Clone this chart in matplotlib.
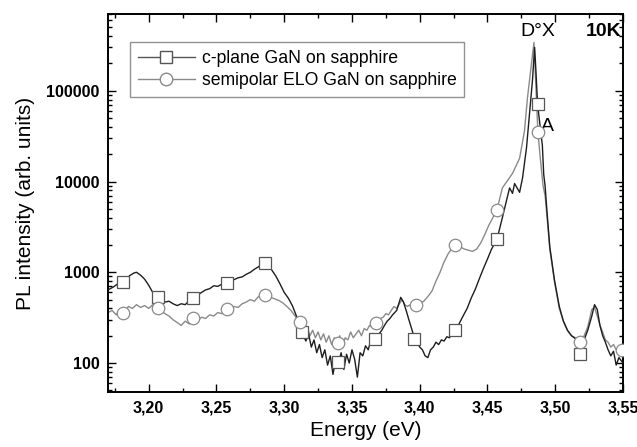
import matplotlib
matplotlib.use('Agg')
import matplotlib.pyplot as plt
from matplotlib.lines import Line2D
from matplotlib.ticker import FixedLocator, FuncFormatter, LogLocator, NullFormatter, MultipleLocator

plt.rcParams['font.family'] = ['Liberation Sans', 'DejaVu Sans']

# c-plane GaN on sapphire (dark curve)
c_energy = [3.170, 3.174, 3.178, 3.182, 3.186, 3.189, 3.191, 3.194, 3.197, 3.200,
            3.203, 3.206, 3.209, 3.212, 3.215, 3.218, 3.221, 3.224, 3.227, 3.230,
            3.233, 3.236, 3.239, 3.242, 3.245, 3.248, 3.251, 3.254, 3.257, 3.260,
            3.263, 3.266, 3.269, 3.272, 3.275, 3.278, 3.281, 3.284, 3.286, 3.288,
            3.291, 3.294, 3.297, 3.300, 3.303, 3.306, 3.309, 3.312, 3.314, 3.316,
            3.318, 3.320, 3.322, 3.324, 3.326, 3.328, 3.330, 3.332, 3.334, 3.336,
            3.338, 3.340, 3.342, 3.344, 3.346, 3.348, 3.350, 3.352, 3.354, 3.356,
            3.358, 3.360, 3.362, 3.364, 3.366, 3.368, 3.370, 3.372, 3.374, 3.376,
            3.378, 3.380, 3.383, 3.386, 3.388, 3.390, 3.392, 3.394, 3.396, 3.398,
            3.400, 3.402, 3.404, 3.406, 3.408, 3.410, 3.412, 3.414, 3.416, 3.418,
            3.420, 3.422, 3.424, 3.426, 3.429, 3.432, 3.435, 3.438, 3.441, 3.444,
            3.447, 3.450, 3.453, 3.457, 3.461, 3.4663, 3.4685, 3.470, 3.4737, 3.4759,
            3.4788, 3.481, 3.4832, 3.4848, 3.4858, 3.487, 3.4885, 3.4905, 3.4915, 3.4925,
            3.494, 3.496, 3.4995, 3.503, 3.506, 3.509, 3.512, 3.515, 3.518, 3.521,
            3.524, 3.527, 3.529, 3.531, 3.533, 3.535, 3.537, 3.539, 3.541, 3.543,
            3.545, 3.547, 3.550]
c_intensity = [640, 690, 760, 800, 920, 980, 1000, 930, 840, 720,
               600, 540, 500, 470, 480, 450, 430, 450, 440, 490,
               520, 560, 600, 640, 660, 710, 700, 740, 760, 800,
               830, 870, 890, 950, 1000, 1080, 1150, 1250, 1320, 1200,
               1050, 900, 740, 600, 520, 430, 330, 240, 200, 175,
               210, 150, 180, 130, 160, 115, 140, 95, 120, 75,
               110, 100, 130, 85, 125, 100, 140, 110, 70, 130,
               120, 155, 140, 180, 160, 190, 210, 230, 260, 290,
               310, 340, 380, 530, 470, 380, 300, 240, 190, 170,
               150, 140, 120, 115, 140, 150, 170, 160, 180, 175,
               195, 190, 220, 231, 270, 330, 400, 520, 650, 850,
               1100, 1400, 1800, 2308, 4000, 8500, 7400, 9500, 7600, 11000,
               23500, 56000, 130000, 300000, 160000, 70100, 45000, 25000, 12000, 9000,
               4500, 1900, 810, 420, 290, 230, 200, 185, 170, 175,
               230, 330, 440, 390, 260, 200, 170, 140, 120, 135,
               95, 115, 100]

# semipolar ELO GaN on sapphire (grey curve)
s_energy = [3.170, 3.173, 3.176, 3.179, 3.182, 3.185, 3.188, 3.191, 3.194, 3.197,
            3.200, 3.203, 3.206, 3.209, 3.212, 3.215, 3.218, 3.221, 3.224, 3.227,
            3.230, 3.233, 3.236, 3.239, 3.242, 3.245, 3.248, 3.251, 3.254, 3.257,
            3.260, 3.263, 3.266, 3.269, 3.272, 3.275, 3.278, 3.281, 3.284, 3.287,
            3.290, 3.293, 3.296, 3.299, 3.302, 3.305, 3.308, 3.311, 3.313, 3.315,
            3.317, 3.319, 3.321, 3.323, 3.325, 3.327, 3.329, 3.331, 3.333, 3.335,
            3.337, 3.339, 3.341, 3.343, 3.345, 3.347, 3.349, 3.351, 3.353, 3.355,
            3.357, 3.359, 3.361, 3.363, 3.365, 3.367, 3.369, 3.371, 3.373, 3.375,
            3.377, 3.379, 3.381, 3.383, 3.385, 3.387, 3.389, 3.391, 3.393, 3.395,
            3.397, 3.400, 3.403, 3.406, 3.409, 3.412, 3.415, 3.418, 3.421, 3.424,
            3.427, 3.430, 3.433, 3.436, 3.439, 3.442, 3.445, 3.448, 3.451, 3.454,
            3.457, 3.461, 3.4685, 3.4737, 3.4773, 3.4795, 3.4825, 3.4843, 3.4872, 3.489,
            3.491, 3.4925, 3.494, 3.496, 3.4995, 3.503, 3.506, 3.509, 3.512, 3.515,
            3.518, 3.521, 3.524, 3.527, 3.529, 3.531, 3.533, 3.535, 3.537, 3.539,
            3.541, 3.543, 3.545, 3.547, 3.550]
s_intensity = [360, 380, 340, 390, 360, 420, 400, 440, 410, 430,
               400, 440, 410, 380, 350, 330, 300, 280, 260, 290,
               270, 300, 290, 320, 310, 340, 330, 360, 350, 380,
               400, 420, 410, 450, 470, 500, 480, 540, 560, 570,
               530, 510, 490, 460, 420, 380, 330, 290, 260, 230,
               250, 200, 230, 190, 220, 180, 210, 170, 200, 160,
               190, 170, 200, 150, 190, 180, 220, 190, 210, 230,
               200, 240, 230, 260, 250, 270, 290, 310, 320, 350,
               340, 380, 420, 400, 450, 500, 440, 420, 440, 420,
               433, 450, 480, 540, 620, 800, 1000, 1300, 1600, 1850,
               1950, 1900, 1800, 1750, 1700, 1800, 2100, 2600, 3300, 4000,
               4900, 8500, 12300, 18000, 36000, 83000, 200000, 340000, 35400, 18000,
               9000, 7000, 4000, 1800, 780, 400, 290, 230, 200, 190,
               175, 195, 250, 390, 410, 330, 260, 220, 180, 170,
               150, 160, 140, 150, 135]

# open markers
c_mark_energy = [3.181, 3.207, 3.233, 3.258, 3.286, 3.313, 3.340, 3.367, 3.396, 3.426, 3.457, 3.487, 3.518]
c_mark_intensity = [781, 531, 520, 757, 1256, 219, 103, 184, 186, 231, 2308, 72000, 125]
s_mark_energy = [3.181, 3.207, 3.233, 3.258, 3.286, 3.312, 3.340, 3.368, 3.397, 3.426, 3.457, 3.4872, 3.518, 3.549]
s_mark_intensity = [355, 402, 312, 392, 558, 282, 166, 275, 433, 1982, 4900, 35400, 170, 139]

c_label = 'c-plane GaN on sapphire'
s_label = 'semipolar ELO GaN on sapphire'

fig = plt.figure(figsize=(6.37, 4.47), dpi=100)
ax = fig.add_axes([0.1696, 0.123, 0.8084, 0.8457])

ax.plot(s_energy, s_intensity, color='#8a8a8a', lw=1.0, zorder=2)
ax.plot(c_energy, c_intensity, color='#1e1e1e', lw=1.0, zorder=3)
ax.plot(c_mark_energy, c_mark_intensity, ls='none', marker='s', ms=8, mfc='white',
        mec='#555555', mew=0.9, zorder=4)
ax.plot(s_mark_energy, s_mark_intensity, ls='none', marker='o', ms=9, mfc='white',
        mec='#8a8a8a', mew=0.9, zorder=4)

ax.set_yscale('log')
ax.set_xlim(3.17, 3.55)
ax.set_ylim(48, 7e5)

ax.xaxis.set_major_locator(MultipleLocator(0.05))
ax.xaxis.set_minor_locator(MultipleLocator(0.025))
ax.xaxis.set_major_formatter(FuncFormatter(lambda v, p: '{:.2f}'.format(v).replace('.', ',')))
ax.yaxis.set_major_locator(FixedLocator([100, 1000, 10000, 100000]))
ax.yaxis.set_major_formatter(FuncFormatter(lambda v, p: '{:d}'.format(int(round(v)))))
ax.yaxis.set_minor_locator(LogLocator(base=10, subs=range(2, 10)))
ax.yaxis.set_minor_formatter(NullFormatter())

ax.tick_params(which='both', direction='in', top=True, right=True, width=1.0)
ax.tick_params(which='major', length=6, labelsize=11.5, pad=6)
ax.tick_params(which='minor', length=3)
for lab in ax.get_xticklabels() + ax.get_yticklabels():
    lab.set_fontweight('bold')
for sp in ax.spines.values():
    sp.set_linewidth(1.4)

ax.set_xlabel('Energy (eV)', fontsize=15, labelpad=4)
ax.set_ylabel('PL intensity (arb. units)', fontsize=15, labelpad=8)

ax.text(3.4868, 4.0e5, 'D°X', fontsize=14, ha='center', va='baseline')
ax.text(3.549, 4.0e5, '10K', fontsize=14, fontweight='bold', ha='right', va='baseline')
ax.text(3.4895, 3.6e4, 'A', fontsize=14, ha='left', va='baseline')

handles = [Line2D([], [], color='#555555', lw=1.0, marker='s', ms=8, mfc='white', mec='#555555'),
           Line2D([], [], color='#8a8a8a', lw=1.0, marker='o', ms=9, mfc='white', mec='#8a8a8a')]
leg = ax.legend(handles, [c_label, s_label], loc='upper left', bbox_to_anchor=(0.043, 0.926),
                borderaxespad=0, fontsize=12.7, frameon=True, fancybox=False, numpoints=1,
                handlelength=3.2, handletextpad=0.4, labelspacing=0.3, borderpad=0.45)
leg.get_frame().set_edgecolor('#777777')
leg.get_frame().set_linewidth(1.0)

fig.savefig('out.png', dpi=100)
